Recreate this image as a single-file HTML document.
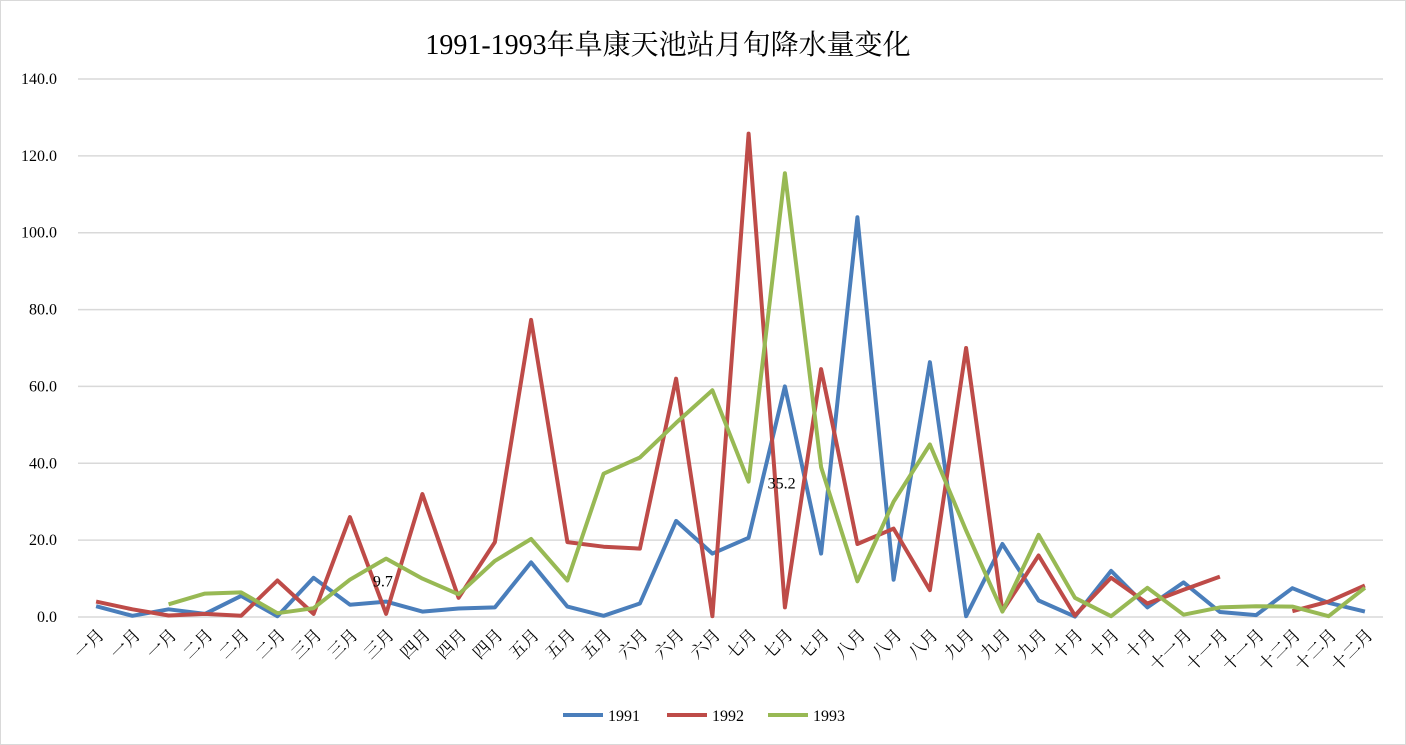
<!DOCTYPE html>
<html><head><meta charset="utf-8"><style>
body{margin:0;background:#fff;}
svg{display:block;font-family:"Liberation Serif","Noto Serif CJK SC","Noto Sans CJK SC",serif;}
</style></head><body>
<svg id="chart" width="1406" height="745">
<rect x="0.5" y="0.5" width="1405" height="744" fill="#fff" stroke="#d9d9d9"/>
<text x="668" y="54" font-size="28" text-anchor="middle">1991-1993年阜康天池站月旬降水量变化</text>
<g id="grid"></g><g id="xl"></g><g id="series"></g>
<g>
<line x1="563" y1="715" x2="603" y2="715" stroke="#4a7ebb" stroke-width="4"/>
<text x="608" y="721" font-size="16">1991</text>
<line x1="667" y1="715" x2="707" y2="715" stroke="#be4b48" stroke-width="4"/>
<text x="712" y="721" font-size="16">1992</text>
<line x1="768" y1="715" x2="808" y2="715" stroke="#98b954" stroke-width="4"/>
<text x="813" y="721" font-size="16">1993</text>
</g>
</svg>
<script>
const categories=["一月","一月","一月","二月","二月","二月","三月","三月","三月","四月","四月","四月","五月","五月","五月","六月","六月","六月","七月","七月","七月","八月","八月","八月","九月","九月","九月","十月","十月","十月","十一月","十一月","十一月","十二月","十二月","十二月"];
const s1991=[2.8,0.3,2,0.8,5.5,0.2,10.2,3.2,4,1.4,2.2,2.5,14.2,2.7,0.3,3.5,25,16.5,20.6,60,16.5,104,9.7,66.3,0.2,19,4.3,0.1,12,2.5,9,1.3,0.5,7.5,3.7,1.4];
const s1992=[4,2,0.4,0.8,0.3,9.5,0.8,26,0.8,32,5,19.5,77.3,19.5,18.3,17.8,62,0.2,125.8,2.5,64.5,19,23,7,70,1.5,16,0.4,10.2,3.5,7.1,10.5,null,1.5,4,8.2];
const s1993=[null,null,3.3,6.1,6.4,1,2.3,9.7,15.2,10,5.9,14.6,20.3,9.5,37.3,41.5,50.5,59,35.2,115.5,39,9.3,30,44.9,22.5,1.4,21.4,5,0.2,7.6,0.6,2.5,2.8,2.7,0.2,7.6];
const yTicks=[0,20,40,60,80,100,120,140];
const labelIdx1993=[7,18];
const NS="http://www.w3.org/2000/svg";
const L=78,R=1383,T=79,B=617,yMax=140;
const step=(R-L)/categories.length;
const xs=i=>L+step*(i+0.5);
const ys=v=>B-(v/yMax)*(B-T);
function mk(t,a,p){const e=document.createElementNS(NS,t);for(const k in a)e.setAttribute(k,a[k]);p.appendChild(e);return e;}
const grid=document.getElementById('grid');
yTicks.forEach(v=>{
 const l=mk('line',{x1:L,x2:R,y1:ys(v),y2:ys(v),stroke:'#d9d9d9','stroke-width':1.5},grid);
 
 
 const t=mk('text',{x:57,y:ys(v)+5,'font-size':16,'text-anchor':'end'},grid);
 t.textContent=v.toFixed(1);
 
 
});
const xl=document.getElementById('xl');
categories.forEach((c,i)=>{
 const x=xs(i);
 const t=mk('text',{x:x+9,y:B+19,'font-size':17,'text-anchor':'end',transform:`rotate(-45 ${x+9} ${B+19})`},xl);
 t.textContent=c;
 
 
});
const sg=document.getElementById('series');
[[s1991,'#4a7ebb','1991'],[s1992,'#be4b48','1992'],[s1993,'#98b954','1993']].forEach(([d,c,n])=>{
 let segs=[],cur=[];
 d.forEach((v,i)=>{if(v==null){if(cur.length)segs.push(cur);cur=[];}else cur.push(xs(i).toFixed(1)+','+ys(v).toFixed(1));});
 if(cur.length)segs.push(cur);
 segs.forEach(s=>{
  const p=mk('polyline',{points:s.join(' '),fill:'none',stroke:c,'stroke-width':4,'stroke-linejoin':'round'},sg);
  
  
 });
});
labelIdx1993.forEach(i=>{
 const t=mk('text',{x:xs(i)+33,y:ys(s1993[i])+7,'font-size':16,'text-anchor':'middle'},sg);
 t.textContent=s1993[i].toFixed(1);
 
 
});
</script>
</body></html>
